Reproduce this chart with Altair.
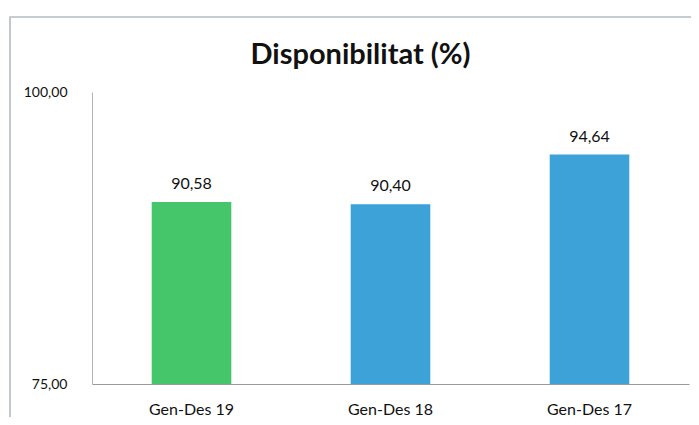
import altair as alt
import pandas as pd

periods = ["Gen-Des 19", "Gen-Des 18", "Gen-Des 17"]
values = [90.58, 90.40, 94.64]
labels = ["90,58", "90,40", "94,64"]
colors = ["#45C66A", "#3DA2D8", "#3DA2D8"]
y_min, y_max = 75, 100

df = pd.DataFrame({"period": periods, "value": values, "label": labels, "color": colors})

FONT = "Lato"

x = alt.X("period:N", sort=periods, title=None,
          scale=alt.Scale(paddingInner=0.6, paddingOuter=0.3),
          axis=alt.Axis(labelAngle=0, ticks=False, domainColor="#9a9a9a", domainWidth=1,
                        labelPadding=17, labelFontSize=16, labelColor="#111", labelFont=FONT))
y = alt.Y("value:Q", title=None,
          scale=alt.Scale(domain=[y_min, y_max], nice=False, zero=False),
          axis=alt.Axis(values=[y_min, y_max], grid=False, ticks=False, domainColor="#b5b5b5",
                        labelPadding=25, labelFontSize=14, labelColor="#111", labelFont=FONT,
                        labelExpr="replace(format(datum.value, '.2f'), '.', ',')"))

bars = alt.Chart(df).mark_bar().encode(
    x=x, y=y, y2=alt.datum(y_min), color=alt.Color("color:N", scale=None)
)
text = alt.Chart(df).mark_text(dy=-18, fontSize=16, font=FONT, color="#111").encode(
    x=alt.X("period:N", sort=periods), y="value:Q", text="label:N"
)
border = alt.Chart(df).mark_rect(fill=None, stroke="#bfc4cc", strokeWidth=1.2).encode(
    x=alt.value(-82), x2=alt.value(640), y=alt.value(-75), y2=alt.value(400)
)

chart = alt.layer(border, bars, text).properties(
    width=597, height=292,
    autosize=alt.AutoSizeParams(type="none"),
    padding={"left": 84, "top": 84, "right": 2, "bottom": 33},
    title=alt.TitleParams("Disponibilitat (%)", fontSize=29, font=FONT, fontWeight="bold",
                          color="#111", anchor="middle", dx=-30, offset=-54, frame="group"),
).configure_view(stroke=None)

chart.save("out.html", embed_options={"renderer": "svg", "actions": False})
